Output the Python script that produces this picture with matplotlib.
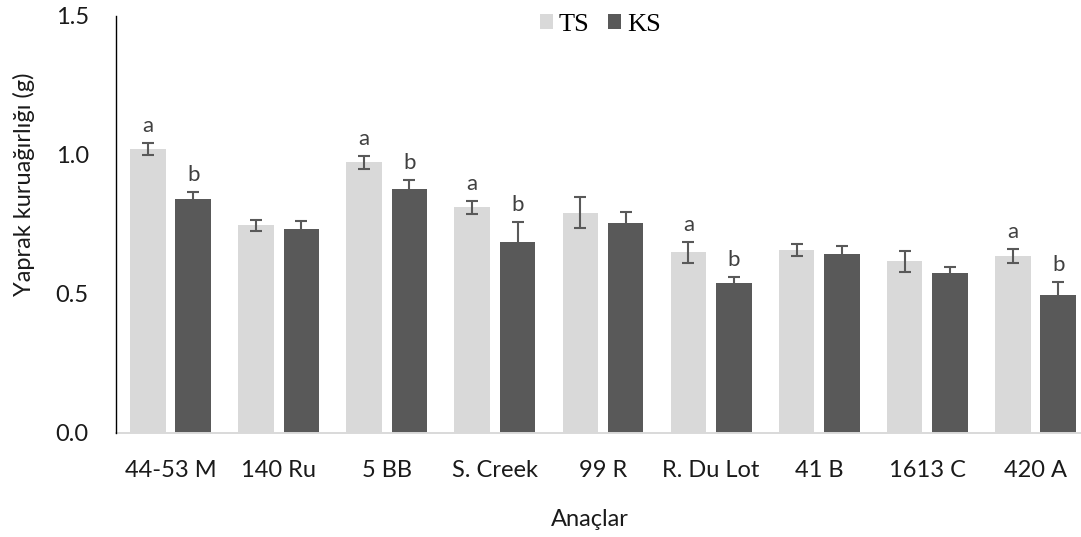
import matplotlib
matplotlib.use("Agg")
import matplotlib.pyplot as plt
import numpy as np

# Rootstocks and leaf dry weight (g) under the two treatments
rootstocks = ["44-53 M", "140 Ru", "5 BB", "S. Creek", "99 R",
              "R. Du Lot", "41 B", "1613 C", "420 A"]
ts_mean = [1.021, 0.746, 0.973, 0.811, 0.791, 0.649, 0.657, 0.616, 0.636]
ts_err = [0.021, 0.019, 0.023, 0.024, 0.055, 0.038, 0.022, 0.037, 0.025]
ks_mean = [0.841, 0.734, 0.875, 0.686, 0.754, 0.539, 0.641, 0.574, 0.496]
ks_err = [0.023, 0.027, 0.035, 0.073, 0.040, 0.020, 0.030, 0.023, 0.046]
ts_letters = ["a", "", "a", "a", "", "a", "", "", "a"]
ks_letters = ["b", "", "b", "b", "", "b", "", "", "b"]
series_names = ["TS", "KS"]
y_ticks = [0.0, 0.5, 1.0, 1.5]

TS_COLOR = "#D9D9D9"
KS_COLOR = "#595959"
ERR_COLOR = "#595959"
SANS = "Lato"

W, H = 1081, 537
fig = plt.figure(figsize=(W / 100, H / 100), dpi=100)
ax = fig.add_axes([116.45 / W, 1 - 432.5 / H, 973.1 / W, 416.7 / H])

x = np.arange(len(rootstocks))
bw = 0.328
off = 0.21

b_ts = ax.bar(x - off, ts_mean, bw, color=TS_COLOR, zorder=2, label=series_names[0])
b_ks = ax.bar(x + off, ks_mean, bw, color=KS_COLOR, zorder=2, label=series_names[1])

err_kw = dict(fmt="none", ecolor=ERR_COLOR, elinewidth=1.5, capsize=4.4,
              capthick=1.5, zorder=3)
ax.errorbar(x - off, ts_mean, yerr=ts_err, **err_kw)
ax.errorbar(x + off, ks_mean, yerr=ks_err, **err_kw)

# significance letters above the error bars
for xs, means, errs, letters in [(x - off, ts_mean, ts_err, ts_letters),
                                 (x + off, ks_mean, ks_err, ks_letters)]:
    for xi, m, e, lt in zip(xs, means, errs, letters):
        if lt:
            ax.annotate(lt, (xi, m + e), xytext=(0, 11), textcoords="offset pixels",
                        ha="center", va="baseline", fontsize=16,
                        family=SANS, color="#404040")

ax.set_xlim(-0.5, len(rootstocks) - 0.5)
ax.set_ylim(0, 1.5)
ax.set_yticks(y_ticks)
ax.set_yticklabels([f"{v:.1f}" for v in y_ticks])
ax.set_xticks(x)
ax.set_xticklabels(rootstocks)

for lab in ax.get_xticklabels() + ax.get_yticklabels():
    lab.set_family(SANS)
    lab.set_fontsize(17)
    lab.set_color("#1a1a1a")

ax.tick_params(axis="y", length=0, pad=20)
ax.tick_params(axis="x", length=0, pad=20)

for s in ["top", "right"]:
    ax.spines[s].set_visible(False)
ax.spines["left"].set_color("black")
ax.spines["left"].set_linewidth(1.0)
ax.spines["bottom"].set_color("#D9D9D9")
ax.spines["bottom"].set_linewidth(1.4)
ax.spines["left"].set_zorder(4)

fig.text(24 / W, 1 - 184 / H, "Yaprak kuruağırlığı (g)", rotation=90,
         ha="center", va="center", fontsize=17, family=SANS, color="#1a1a1a")
fig.text(590 / W, 1 - 519 / H, "Anaçlar", ha="center", va="center",
         fontsize=17, family=SANS, color="#1a1a1a")

leg = fig.legend(handles=[b_ts, b_ks], labels=series_names, loc="center",
                 bbox_to_anchor=(600 / W, 1 - 25 / H), ncol=2, frameon=False,
                 prop={"family": "Liberation Serif", "size": 19},
                 handlelength=0.52, handleheight=0.52, handletextpad=0.2,
                 columnspacing=0.7, borderpad=0, borderaxespad=0)

fig.savefig("out.png", dpi=100)
